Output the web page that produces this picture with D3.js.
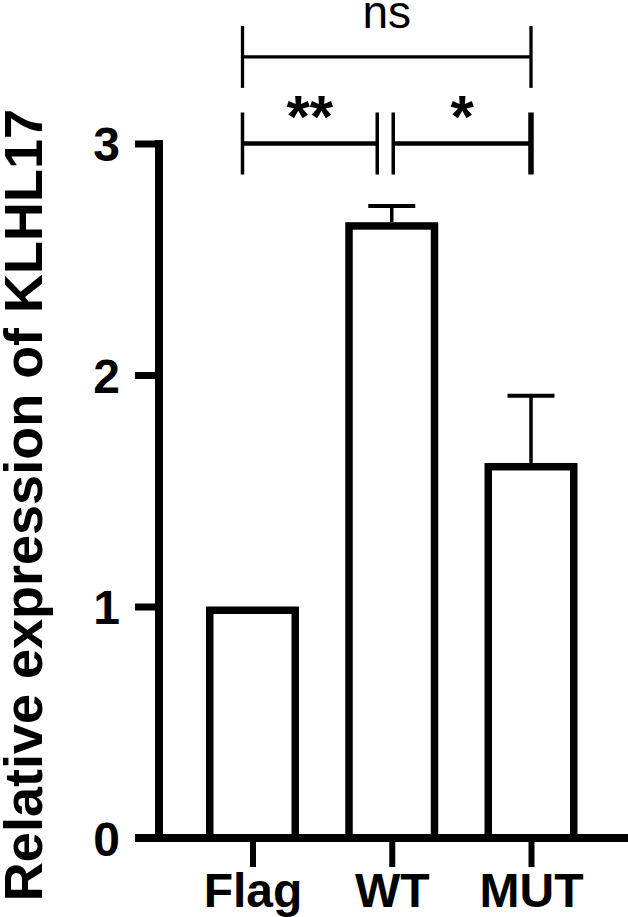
<!DOCTYPE html>
<html>
<head>
<meta charset="utf-8">
<script src="https://cdn.jsdelivr.net/npm/d3@7"></script>
<style>
  html, body { margin: 0; padding: 0; background: #fff; }
  svg { display: block; }
</style>
</head>
<body>
<svg id="chart" width="628" height="917"></svg>
<script>
// ---- data ----
const categories = ["Flag", "WT", "MUT"];
const means = [1.0, 2.66, 1.62];
const errors = [0, 0.07, 0.29];
const yTicks = [0, 1, 2, 3];
const yTitle = "Relative expression of KLHL17";
const sigLabels = ["ns", "**", "*"];
const sigFrom = ["Flag", "Flag", "WT"];
const sigTo = ["MUT", "WT", "MUT"];
const sigLevel = [3.374, 3.0, 3.0];

// ---- layout ----
const svg = d3.select("#chart");
const FONT = "'Liberation Sans', Arial, Helvetica, sans-serif";
const y = d3.scaleLinear().domain([0, 3]).range([838, 143.5]);
const x = d3.scalePoint().domain(categories).range([252.5, 531]);
const axisX = 159;
const barW = 93, barSW = 7.5;

// y axis
const gy = svg.append("g").attr("transform", `translate(${axisX},0)`)
  .call(d3.axisLeft(y).tickValues(yTicks).tickSize(24).tickSizeOuter(0).tickPadding(15).tickFormat(d3.format("d")));
gy.select(".domain").remove();
gy.selectAll(".tick line").attr("stroke", "#000").attr("stroke-width", 7);
gy.selectAll(".tick text").attr("fill", "#000").attr("font-family", FONT)
  .attr("font-weight", "bold").attr("font-size", 48).attr("dy", "0.36em");
svg.append("line").attr("x1", axisX).attr("x2", axisX)
  .attr("y1", y(0) + 4).attr("y2", y(3) - 3.5)
  .attr("stroke", "#000").attr("stroke-width", 8);

// bars
svg.selectAll("rect.bar").data(categories).join("rect").attr("class", "bar")
  .attr("x", d => x(d) - barW / 2 + barSW / 2)
  .attr("y", (d, i) => y(means[i]) + barSW / 2)
  .attr("width", barW - barSW)
  .attr("height", (d, i) => y(0) - y(means[i]) - barSW / 2)
  .attr("fill", "#fff").attr("stroke", "#000").attr("stroke-width", barSW);

// error bars
const eb = categories.map((c, i) => ({ c, m: means[i], e: errors[i] })).filter(d => d.e > 0);
svg.selectAll("line.err").data(eb).join("line").attr("class", "err")
  .attr("x1", d => x(d.c)).attr("x2", d => x(d.c))
  .attr("y1", d => y(d.m)).attr("y2", d => y(d.m + d.e))
  .attr("stroke", "#000").attr("stroke-width", 3.5);
svg.selectAll("line.cap").data(eb).join("line").attr("class", "cap")
  .attr("x1", d => x(d.c) - 23.5).attr("x2", d => x(d.c) + 23.5)
  .attr("y1", d => y(d.m + d.e)).attr("y2", d => y(d.m + d.e))
  .attr("stroke", "#000").attr("stroke-width", 4);

// x axis
const gx = svg.append("g").attr("transform", `translate(0,${y(0)})`)
  .call(d3.axisBottom(x).tickSize(29).tickSizeOuter(0).tickPadding(6));
gx.select(".domain").remove();
gx.selectAll(".tick line").attr("stroke", "#000").attr("stroke-width", 6);
gx.selectAll(".tick text").attr("fill", "#000").attr("font-family", FONT)
  .attr("font-weight", "bold").attr("font-size", 48).attr("y", 69).attr("dy", 0);
svg.append("line").attr("x1", 135).attr("x2", 628)
  .attr("y1", y(0)).attr("y2", y(0))
  .attr("stroke", "#000").attr("stroke-width", 8);

// y title
svg.append("text").attr("transform", `translate(42,505) rotate(-90)`)
  .attr("text-anchor", "middle").attr("font-family", FONT)
  .attr("font-weight", "bold").attr("font-size", 54).attr("fill", "#000")
  .text(yTitle);

// significance brackets
const offs = [[-10, 0], [-10, -14.5], [1.5, 0]];
sigLabels.forEach((lab, i) => {
  const x1 = x(sigFrom[i]) + offs[i][0];
  const x2 = x(sigTo[i]) + offs[i][1];
  const yy = y(sigLevel[i]);
  const sw = i === 0 ? 3.3 : 4.5;
  const g = svg.append("g").attr("stroke", "#000");
  g.append("line").attr("x1", x1).attr("x2", x2).attr("y1", yy).attr("y2", yy).attr("stroke-width", sw);
  g.append("line").attr("x1", x1).attr("x2", x1).attr("y1", yy - 31).attr("y2", yy + 31).attr("stroke-width", i === 0 ? 3.3 : 3.5);
  g.append("line").attr("x1", x2).attr("x2", x2).attr("y1", yy - 31).attr("y2", yy + 31).attr("stroke-width", i === 2 ? 5.5 : (i === 0 ? 3.3 : 3.5));
  const t = svg.append("text").attr("x", (x1 + x2) / 2).attr("text-anchor", "middle")
    .attr("font-family", FONT).attr("fill", "#000").text(lab);
  if (i === 0) {
    t.attr("y", yy - 29).attr("font-size", 46);
  } else {
    t.attr("y", yy - 7).attr("font-size", 60).attr("font-weight", "bold");
  }
});
</script>
</body>
</html>
